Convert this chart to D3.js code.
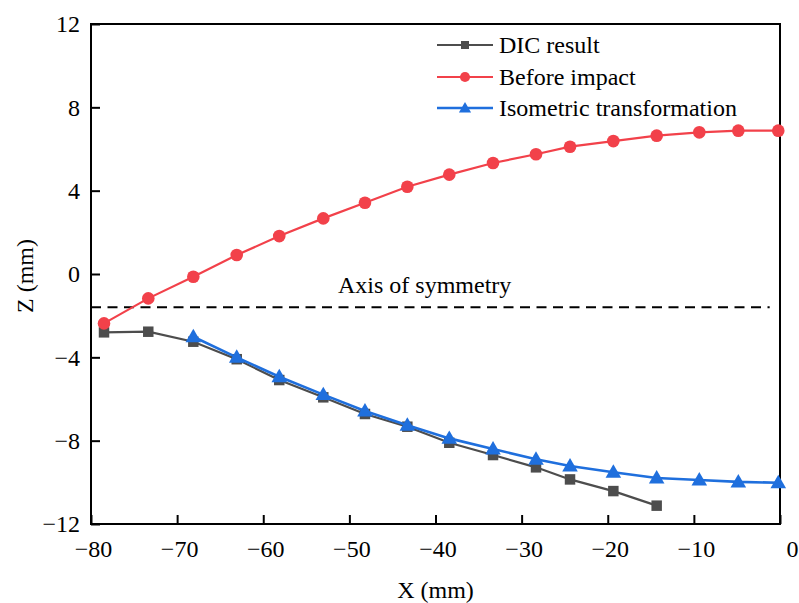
<!DOCTYPE html>
<html><head><meta charset="utf-8">
<script src="https://cdn.jsdelivr.net/npm/d3@7"></script>
<style>body{margin:0;background:#fff} svg text{font-family:'Liberation Serif','Times New Roman',Times,serif !important}</style>
</head><body><svg id="c" width="799" height="603"></svg>
<script>
const dicX = [-78.49,-73.35,-68.12,-63.08,-58.14,-53.03,-48.19,-43.27,-38.40,-33.32,-28.33,-24.38,-19.35,-14.32];
const dicZ = [-2.80,-2.77,-3.25,-4.09,-5.09,-5.92,-6.72,-7.33,-8.10,-8.69,-9.28,-9.86,-10.42,-11.12];
const beforeX = [-78.49,-73.35,-68.12,-63.08,-58.14,-53.03,-48.19,-43.27,-38.40,-33.32,-28.33,-24.38,-19.35,-14.32,-9.37,-4.84,-0.20];
const beforeZ = [-2.37,-1.17,-0.13,0.91,1.82,2.67,3.42,4.19,4.77,5.33,5.75,6.11,6.38,6.64,6.80,6.88,6.88];
const isoX = [-68.12,-63.08,-58.14,-53.03,-48.19,-43.27,-38.40,-33.32,-28.33,-24.38,-19.35,-14.32,-9.37,-4.84,-0.20];
const isoZ = [-3.01,-4.00,-4.93,-5.79,-6.58,-7.26,-7.89,-8.40,-8.89,-9.22,-9.52,-9.79,-9.89,-9.98,-10.02];
const symX = [-80,-1.2];
const symZ = [-1.6,-1.6];
const xTicks = [-80,-70,-60,-50,-40,-30,-20,-10,0];
const yTicks = [-12,-8,-4,0,4,8,12];
const seriesNames = ["DIC result","Before impact","Isometric transformation"];

const FONT = "'Liberation Serif','Times New Roman',Times,serif";
const svg = d3.select("#c");
const L=91, R=780, T=24, B=524;
const x = d3.scaleLinear().domain([-80,0]).range([L,R]);
const y = d3.scaleLinear().domain([-12,12]).range([B,T]);
const fmt = d => d<0 ? "\u2212"+Math.abs(d) : String(d);

const xa = svg.append("g").attr("transform",`translate(0,${B})`)
  .call(d3.axisBottom(x).tickValues(xTicks).tickSizeInner(-9).tickSizeOuter(0).tickPadding(16).tickFormat(fmt));
const ya = svg.append("g").attr("transform",`translate(${L},0)`)
  .call(d3.axisLeft(y).tickValues(yTicks).tickSizeInner(-9).tickSizeOuter(0).tickPadding(11).tickFormat(fmt));
[xa,ya].forEach(a=>{a.attr("font-family",FONT).attr("font-size",24);
  a.select(".domain").remove();a.selectAll("line").attr("stroke","#000").attr("stroke-width",2);
  a.selectAll("text").style("font-family",FONT).style("font-size","24px").attr("fill","#000");});
xa.selectAll("text").attr("dy","0.71em").attr("dx",2);
xa.selectAll(".tick").filter(d=>d===0).select("text").attr("dx",12);
ya.selectAll("text").attr("dy","0.33em");
svg.append("rect").attr("x",L).attr("y",T).attr("width",R-L).attr("height",B-T)
  .attr("fill","none").attr("stroke","#000").attr("stroke-width",2);

function txt(){ return svg.append("text").style("font-family",FONT).style("font-size","24px").attr("fill","#000"); }
txt().attr("x",(L+R)/2).attr("y",598).attr("text-anchor","middle").text("X (mm)");
txt().attr("transform",`translate(33,${(T+B)/2+2}) rotate(-90)`).attr("text-anchor","middle").text("Z (mm)");

const line = d3.line().x(d=>x(d[0])).y(d=>y(d[1]));
svg.append("path").datum(d3.zip(symX,symZ)).attr("d",line).attr("fill","none")
  .attr("stroke","#000").attr("stroke-width",2).attr("stroke-dasharray","10,6.5");
txt().attr("x",338).attr("y",293).text("Axis of symmetry");

const cols = ["#4d4d4d","#f2414a","#1f6fdd"];
const sym = [d3.symbolSquare,d3.symbolCircle,d3.symbolTriangle];
const sizes = [110,125,105];
const data = [d3.zip(dicX,dicZ), d3.zip(beforeX,beforeZ), d3.zip(isoX,isoZ)];
const widths=[2.2,2.2,2.6];
data.forEach((ds,i)=>{
  const g = svg.append("g");
  g.append("path").datum(ds).attr("d",line).attr("fill","none").attr("stroke",cols[i]).attr("stroke-width",widths[i]);
  g.selectAll("path.m").data(ds).join("path").attr("class","m")
    .attr("transform",d=>`translate(${x(d[0])},${y(d[1])+(i===2?1:0)})`)
    .attr("d",d3.symbol(sym[i],sizes[i])).attr("fill",cols[i]);
});

const ly=[45,77,108];
seriesNames.forEach((n,i)=>{
  const g=svg.append("g");
  g.append("line").attr("x1",437).attr("x2",493).attr("y1",ly[i]).attr("y2",ly[i]).attr("stroke",cols[i]).attr("stroke-width",widths[i]);
  g.append("path").attr("transform",`translate(465,${ly[i]+(i===2?1:0)})`).attr("d",d3.symbol(sym[i],[64,80,64][i])).attr("fill",cols[i]);
  txt().attr("x",499).attr("y",ly[i]+8).text(n);
});
</script></body></html>
